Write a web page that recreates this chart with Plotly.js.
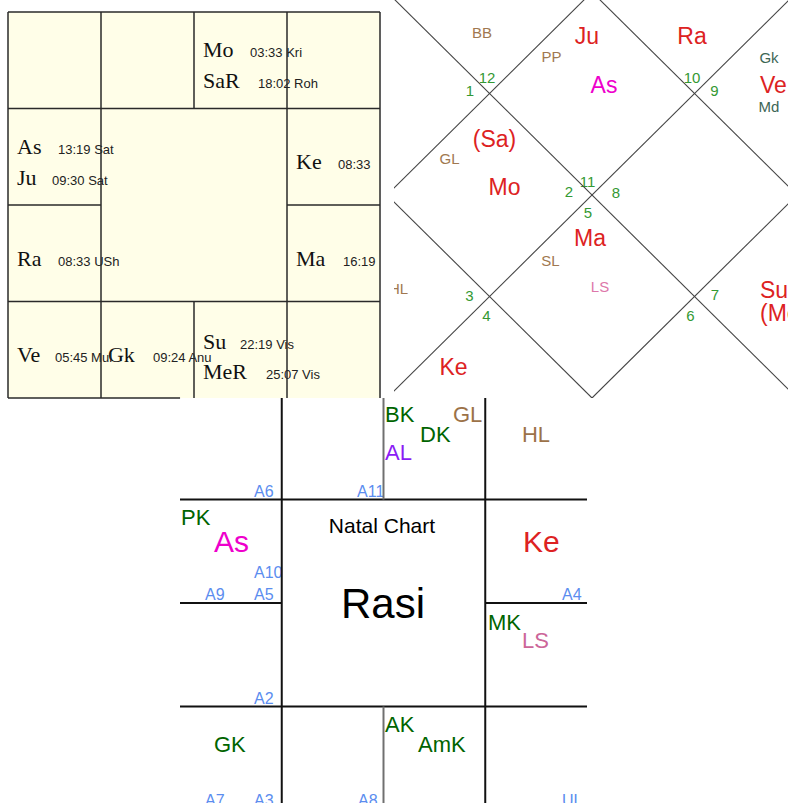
<!DOCTYPE html>
<html><head><meta charset="utf-8">
<script src="https://cdn.plot.ly/plotly-3.0.1.min.js"></script>
<style>html,body{margin:0;padding:0;background:#fff;}#chart{width:788px;height:803px;}</style>
</head><body><div id="chart"></div>
<script>
// ---------- Panel 1: South-Indian chart with degrees ----------
const p1Planets = ['Mo','SaR','As','Ju','Ke','Ra','Ma','Ve','Gk','Su','MeR'];
const p1Degrees = ['03:33 Kri','18:02 Roh','13:19 Sat','09:30 Sat','08:33','08:33 USh','16:19','05:45 Mul','09:24 Anu','22:19 Vis','25:07 Vis'];
const p1NameCol = [2.097,2.097,0.097,0.097,3.097,0.097,3.097,0.097,1.075,2.097,2.097];
const p1Row     = [0.466,0.788,1.472,1.793,1.627,2.632,2.632,3.627,3.627,3.492,3.803];
const p1DegCol  = [2.602,2.688,0.538,0.473,3.548,0.538,3.602,0.505,1.559,2.495,2.774];

// ---------- Panel 2: North-Indian diamond chart ----------
const p2Labels = ['BB','12','1','PP','Ju','Ra','As','Gk','Ve','Md','10','9','(Sa)','GL','Mo','2','11','8','5','Ma','SL','LS','HL','3','4','7','6','Ke','Su','(Me)'];
const p2Kind   = ['sp','hn','hn','sp','pl','pl','lg','up','pl','up','hn','hn','pl','sp','pl','hn','hn','hn','hn','pl','sp','ls','sp','hn','hn','hn','hn','pl','pl','pl'];
const p2U = [0.927,0.976,0.810,1.605,1.951,2.976,2.117,3.727,3.639,3.727,2.976,3.195,1.049,0.610,1.146,1.776,1.956,2.234,1.961,1.980,1.595,2.078,0.112,0.805,0.971,3.200,2.961,0.649,3.639,3.639];
const p2V = [0.399,0.847,0.975,0.640,0.433,0.433,0.916,0.645,0.916,1.128,0.847,0.975,1.448,1.645,1.921,1.966,1.872,1.980,2.172,2.424,2.645,2.906,2.921,2.995,3.192,2.985,3.187,3.690,2.936,3.163];
const p2LeftAligned = ['Ve','Su','(Me)'];

// ---------- Panel 3: Natal chart (Rasi) ----------
const p3Labels = ['BK','DK','GL','AL','HL','PK','As','Ke','MK','LS','GK','AK','AmK'];
const p3Kind   = ['ck','ck','sp','al','sp','ck','lg','pl','ck','ls','ck','ck','ck'];
const p3Col = [2.015,2.359,2.683,2.015,3.361,0.010,0.334,3.371,3.027,3.361,0.334,2.015,2.339];
const p3Row = [0.251,0.444,0.251,0.618,0.444,1.246,1.507,1.507,2.261,2.435,3.440,3.246,3.440];
const p3Arudhas = ['A6','A11','A10','A9','A5','A4','A2','A7','A3','A8','UL'];
const p3ACol = [0.727,1.740,0.727,0.246,0.727,3.754,0.727,0.246,0.727,1.749,3.754];
const p3ARow = [0.976,0.976,1.758,1.971,1.971,1.971,2.976,3.961,3.961,3.961,3.961];
const p3Titles = ['Natal Chart','Rasi'];
const p3TitleCol = [1.985,1.995];
const p3TitleRow = [1.324,2.145];

// ---------- styles ----------
const W = 788, H = 803;
const SANS = 'Liberation Sans, Arial, sans-serif';
const SERIF = 'Liberation Serif, Times New Roman, serif';
const P1 = {ox:8, sx:93, oy:12, sy:96.5};
const P2 = {ox:387, sx:102.5, oy:-8, sy:101.5};
const P3 = {ox:180, sx:101.75, oy:396, sy:103.5};
const p2Color = {sp:'#a07850', hn:'#339933', pl:'#dd2222', lg:'#ee00cc', up:'#3d6655', ls:'#dd77aa'};
const p2Size  = {sp:15, hn:15, pl:23, lg:23, up:15, ls:15};
const p3Color = {ck:'#006400', sp:'#9c7248', al:'#8b1cf5', pl:'#dd2222', lg:'#ee00cc', ls:'#cc6699'};
const p3Size  = {ck:22, sp:22, al:22, pl:30, lg:30, ls:22};

function axes(px0, px1, py0, py1, P, anchor) {
  return [
    {domain:[px0/W, px1/W], range:[(px0-P.ox)/P.sx, (px1-P.ox)/P.sx], visible:false, fixedrange:true, showgrid:false, zeroline:false, anchor:anchor[1]},
    {domain:[1-py1/H, 1-py0/H], range:[(py1-P.oy)/P.sy, (py0-P.oy)/P.sy], visible:false, fixedrange:true, showgrid:false, zeroline:false, anchor:anchor[0]}
  ];
}
const [xa1, ya1] = axes(7, 381, 11, 400, P1, ['x','y']);
const [xa2, ya2] = axes(394, 788, 0, 398, P2, ['x2','y2']);
const [xa3, ya3] = axes(176, 590, 398, 803, P3, ['x3','y3']);

// baseline (in cell units) -> point position for 'middle' text
const fromBaseline = (v, fs, P) => v.map((b, i) => b - 0.25 * (Array.isArray(fs) ? fs[i] : fs) / P.sy);
const fromCenter = (v, fs, P) => v.map((c, i) => c + 0.108 * (Array.isArray(fs) ? fs[i] : fs) / P.sy);

function txt(xa, ya, x, y, text, size, color, family, pos) {
  return {type:'scatter', mode:'text', xaxis:xa, yaxis:ya, x, y, text, textposition:pos,
    textfont:{family, size, color}, cliponaxis:true, hoverinfo:'skip', showlegend:false};
}

const traces = [];
// panel 1
traces.push(txt('x','y', p1NameCol, fromBaseline(p1Row, 22, P1), p1Planets, 22, '#111', SERIF, 'middle right'));
traces.push(txt('x','y', p1DegCol, fromBaseline(p1Row, 13, P1), p1Degrees, 13, '#222', SANS, 'middle right'));
// panel 2
const p2Sizes = p2Kind.map(k => p2Size[k]);
traces.push(txt('x2','y2', p2U, fromCenter(p2V, p2Sizes, P2), p2Labels, p2Sizes, p2Kind.map(k => p2Color[k]), SANS,
  p2Labels.map(l => p2LeftAligned.includes(l) ? 'middle right' : 'middle center')));
// panel 3
const p3Sizes = p3Kind.map(k => p3Size[k]);
traces.push(txt('x3','y3', p3Col, fromBaseline(p3Row, p3Sizes, P3), p3Labels, p3Sizes, p3Kind.map(k => p3Color[k]), SANS, 'middle right'));
traces.push(txt('x3','y3', p3ACol, fromBaseline(p3ARow, 16, P3), p3Arudhas, 16, '#5b8def', SANS, 'middle right'));
traces.push(txt('x3','y3', p3TitleCol, fromBaseline(p3TitleRow, [21, 42], P3), p3Titles, [21, 42], '#000', SANS, 'middle center'));

// ---------- grid shapes ----------
const shapes = [];
const ln = (xr, yr, x0, y0, x1, y1, color, width) => shapes.push({type:'line', xref:xr, yref:yr, x0, y0, x1, y1, line:{color, width}, layer:'above'});
// panel 1
shapes.push({type:'rect', xref:'x', yref:'y', x0:0, y0:0, x1:4, y1:4, fillcolor:'#fffee8', line:{width:0}, layer:'below'});
const c1 = '#2a2a2a', w1 = 1.5;
ln('x','y',0,0,4,0,c1,w1); ln('x','y',0,0,0,4,c1,w1); ln('x','y',4,0,4,4,c1,w1); ln('x','y',0,4,1.85,4,c1,w1);
ln('x','y',1,0,1,4,c1,w1); ln('x','y',3,0,3,4,c1,w1); ln('x','y',2,0,2,1,c1,w1); ln('x','y',2,3,2,4,c1,w1);
ln('x','y',0,1,4,1,c1,w1); ln('x','y',0,3,4,3,c1,w1); ln('x','y',0,2,1,2,c1,w1); ln('x','y',3,2,4,2,c1,w1);
// panel 2
const c2 = '#444', w2 = 1.1;
ln('x2','y2',0,0,4,4,c2,w2); ln('x2','y2',4,0,0,4,c2,w2);
ln('x2','y2',2,0,4,2,c2,w2); ln('x2','y2',4,2,2,4,c2,w2); ln('x2','y2',2,4,0,2,c2,w2); ln('x2','y2',0,2,2,0,c2,w2);
// panel 3
const c3 = '#111', w3 = 2, g3 = '#707070';
ln('x3','y3',0,1,4,1,c3,w3); ln('x3','y3',0,3,4,3,c3,w3); ln('x3','y3',0,2,1,2,c3,w3); ln('x3','y3',3,2,4,2,c3,w3);
ln('x3','y3',1,0,1,4,c3,w3); ln('x3','y3',3,0,3,4,c3,w3);
ln('x3','y3',2,0,2,1,g3,w3); ln('x3','y3',2,3,2,4,g3,w3);

const layout = {
  width:W, height:H, margin:{l:0,r:0,t:0,b:0}, paper_bgcolor:'#ffffff', plot_bgcolor:'rgba(0,0,0,0)',
  showlegend:false, hovermode:false,
  xaxis:xa1, yaxis:ya1, xaxis2:xa2, yaxis2:ya2, xaxis3:xa3, yaxis3:ya3,
  shapes
};
Plotly.newPlot('chart', traces, layout, {staticPlot:true, displayModeBar:false});
</script></body></html>
